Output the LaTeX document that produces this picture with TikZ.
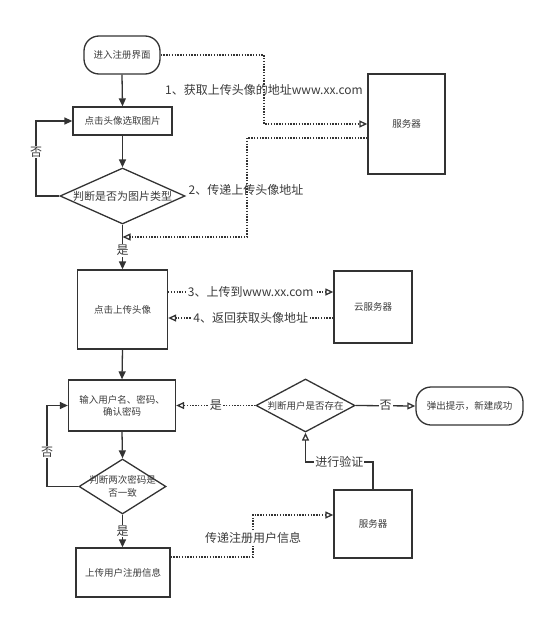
\documentclass[tikz,border=0pt]{standalone}
\usepackage{fontspec}
\setmainfont{Noto Sans CJK SC}
\usetikzlibrary{shapes.geometric,arrows.meta,calc}
\definecolor{ln}{HTML}{333333}
\definecolor{tx}{HTML}{3A3A3A}
\tikzset{
  base/.style={draw=ln,line width=1.3pt,text=tx,font=\fontsize{9.5}{12}\selectfont,inner sep=0pt,align=center},
  term/.style={base,rectangle,rounded corners=15pt},
  dia/.style={base,diamond,shape aspect=2},
  flow/.style={draw=ln,line width=1.3pt,-{Triangle[length=8pt,width=7pt]}},
  solidopen/.style={draw=ln,line width=1.3pt,-{Triangle[open,length=8pt,width=7pt,line width=1.3pt]}},
  dot/.style={draw=ln,line width=1.3pt,dash pattern=on 1.3pt off 1.5pt,-{Triangle[open,length=8pt,width=7pt,line width=1.3pt]}},
  lab/.style={text=tx,font=\fontsize{12}{14}\selectfont,inner sep=1pt},
  labw/.style={lab,fill=white}
}
\begin{document}
\begin{tikzpicture}[x=1pt,y=-1pt]
\useasboundingbox (0,0) rectangle (548,621);
% nodes
\node[term,minimum width=76pt,minimum height=38pt] (start) at (122,55) {进入注册界面};
\node[base,minimum width=99pt,minimum height=28pt] (pick) at (122.5,121) {点击头像选取图片};
\node[dia,minimum width=125pt,minimum height=56pt,label={[text=tx,font=\fontsize{11}{13}\selectfont]center:判断是否为图片类型}] (d1) at (122.5,196) {};
\node[base,minimum width=77pt,minimum height=100pt] (srv1) at (406.5,124) {服务器};
\node[base,minimum width=90pt,minimum height=79pt] (upl) at (122.5,309.5) {点击上传头像};
\node[base,minimum width=78pt,minimum height=72pt] (cloud) at (373,307) {云服务器};
\node[base,minimum width=107pt,minimum height=51pt] (input) at (122,405.5) {输入用户名、密码、\\确认密码};
\node[dia,minimum width=87pt,minimum height=55pt,label={[text=tx,font=\fontsize{9.5}{13}\selectfont,align=center]center:判断两次密码是\\否一致}] (d2) at (122.5,486.5) {};
\node[dia,minimum width=99pt,minimum height=53pt,label={[text=tx,font=\fontsize{9.5}{12}\selectfont]center:判断用户是否存在}] (d3) at (305.5,405.5) {};
\node[term,minimum width=107pt,minimum height=38pt] (done) at (469.5,406) {弹出提示，新建成功};
\node[base,minimum width=78pt,minimum height=68pt] (srv2) at (373,524) {服务器};
\node[base,minimum width=94pt,minimum height=49pt] (reg) at (123,572.5) {上传用户注册信息};
% coordinates
\coordinate (c1) at (264,124);
\coordinate (c2a) at (247,138);
\coordinate (c2b) at (247,237);
\coordinate (m1) at (122.5,237);
\coordinate (l1) at (36,196);
\coordinate (l2) at (47,486.5);
\coordinate (c3) at (373,462);
\coordinate (c4a) at (253,557);
\coordinate (c4b) at (253,515);
% main flow
\draw[flow] (start.south) -- (pick.north);
\draw[flow] (pick.south) -- (d1.north);
\draw[flow] (d1.west) -- (l1) |- (pick.west);
\node[labw] (no1) at (36,152) {否};
\draw[flow] (d1.south) -- node[labw,pos=0.58]{是} (upl.north);
\draw[flow] (upl.south) -- (input.north);
\draw[flow] (input.south) -- (d2.north);
\draw[flow] (d2.west) -- (l2) |- (input.west);
\node[labw] (no2) at (47,452) {否};
\draw[flow] (d2.south) -- node[labw,pos=0.5]{是} (d2.south |- reg.north);
% dotted links
\draw[dot] (start.east) -| (c1) -- (srv1.west);
\node[lab] (t1) at (264,90) {1、获取上传头像的地址www.xx.com};
\draw[dot] ($(srv1.west)+(0,14)$) -- (c2a) -- (c2b) -- (m1);
\node[lab] (t2) at (246,190) {2、传递上传头像地址};
\draw[dot] ($(upl.east)+(0,-17.5)$) -- node[labw]{3、上传到www.xx.com} ($(cloud.west)+(0,-15)$);
\draw[dot] ($(cloud.west)+(0,11)$) -- node[labw]{4、返回获取头像地址} ($(upl.east)+(0,8.5)$);
\draw[dot] (d3.west) -- node[labw]{是} (input.east);
\draw[solidopen] (d3.east) -- node[labw]{否} (done.west);
\draw[solidopen] (srv2.north) -- (c3) -| node[labw,pos=0.25]{进行验证} (d3.south);
\draw[dot] ($(reg.east)+(0,-15.5)$) -- (c4a) -- node[labw,pos=0.45]{传递注册用户信息} (c4b) -- ($(srv2.west)+(0,-9)$);
\end{tikzpicture}
\end{document}
